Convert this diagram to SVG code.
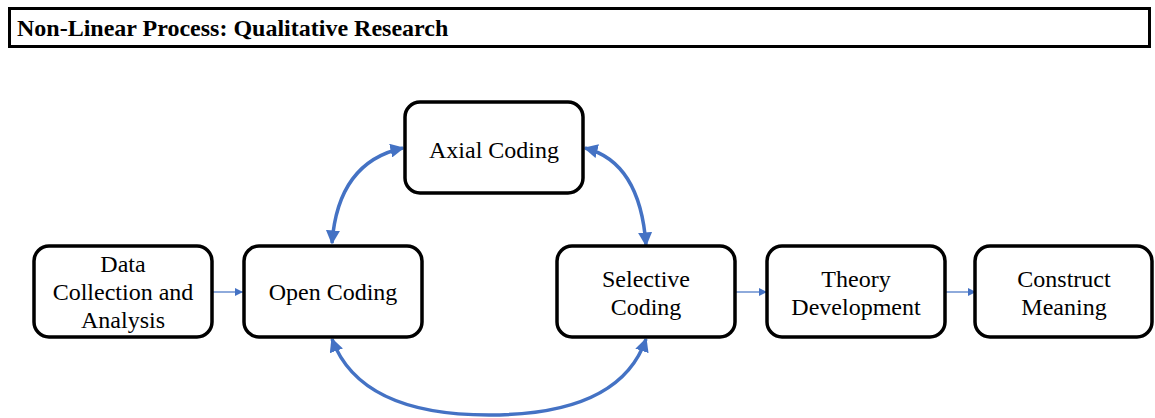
<svg xmlns="http://www.w3.org/2000/svg" width="1155" height="418" viewBox="0 0 1155 418">
<defs>
<style>
.box{fill:#fff;stroke:#000;stroke-width:3.5}
.thin{fill:none;stroke:#4472C4;stroke-width:1.2}
.thick{fill:none;stroke:#4472C4;stroke-width:3.5}
</style>
<marker id="sa" viewBox="0 0 10 10" refX="10" refY="5" markerWidth="8" markerHeight="8" markerUnits="userSpaceOnUse" orient="auto"><path d="M0,0L10,5L0,10z" fill="#4472C4"/></marker>
<marker id="ta" viewBox="0 0 10 10" refX="9" refY="5" markerWidth="4" markerHeight="4" orient="auto-start-reverse"><path d="M0,0L10,5L0,10z" fill="#4472C4"/></marker>
</defs>
<rect width="1155" height="418" fill="#fff"/>
<g id="title">
<rect x="9.5" y="8.5" width="1140" height="38" fill="#fff" stroke="#000" stroke-width="3"/>
<text x="17" y="36" font-family="Liberation Serif" font-size="24" font-weight="bold">Non-Linear Process: Qualitative Research</text>
</g>
<g id="connectors">
<path class="thin" d="M212,292H243" marker-end="url(#sa)"/>
<path class="thin" d="M735,292H767" marker-end="url(#sa)"/>
<path class="thin" d="M945,292H976" marker-end="url(#sa)"/>
<path class="thick" d="M332,243Q338,162 403,148" marker-start="url(#ta)" marker-end="url(#ta)"/>
<path class="thick" d="M585,148Q640,162 646,245" marker-start="url(#ta)" marker-end="url(#ta)"/>
<path class="thick" d="M332,339Q360,415 489,415Q620,415 646,339" marker-start="url(#ta)" marker-end="url(#ta)"/>
</g>
<g id="data"><rect class="box" x="34" y="246" width="178" height="91" rx="15"/>
<text x="123" y="272" font-family="Liberation Serif" font-size="24" text-anchor="middle">Data</text>
<text x="123" y="300" font-family="Liberation Serif" font-size="24" text-anchor="middle">Collection and</text>
<text x="123" y="328" font-family="Liberation Serif" font-size="24" text-anchor="middle">Analysis</text></g>
<g id="open"><rect class="box" x="244" y="246" width="178" height="91" rx="15"/>
<text x="333" y="300" font-family="Liberation Serif" font-size="24" text-anchor="middle">Open Coding</text></g>
<g id="axial"><rect class="box" x="405" y="102" width="178" height="91" rx="15"/>
<text x="494" y="158" font-family="Liberation Serif" font-size="24" text-anchor="middle">Axial Coding</text></g>
<g id="selective"><rect class="box" x="557" y="246" width="178" height="91" rx="15"/>
<text x="646" y="287" font-family="Liberation Serif" font-size="24" text-anchor="middle">Selective</text>
<text x="646" y="315" font-family="Liberation Serif" font-size="24" text-anchor="middle">Coding</text></g>
<g id="theory"><rect class="box" x="767" y="246" width="178" height="91" rx="15"/>
<text x="856" y="287" font-family="Liberation Serif" font-size="24" text-anchor="middle">Theory</text>
<text x="856" y="315" font-family="Liberation Serif" font-size="24" text-anchor="middle">Development</text></g>
<g id="construct"><rect class="box" x="975" y="246" width="177" height="91" rx="15"/>
<text x="1064" y="287" font-family="Liberation Serif" font-size="24" text-anchor="middle">Construct</text>
<text x="1064" y="315" font-family="Liberation Serif" font-size="24" text-anchor="middle">Meaning</text></g>
</svg>
